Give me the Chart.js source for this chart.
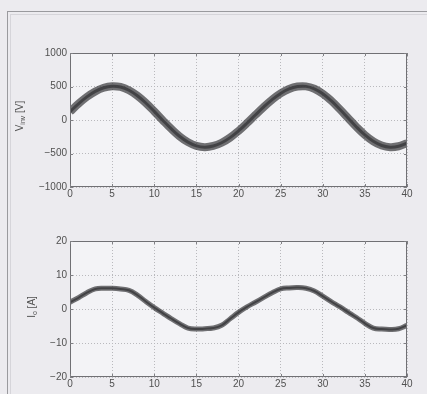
<!DOCTYPE html>
<html>
<head>
<meta charset="utf-8">
<script src="https://cdn.jsdelivr.net/npm/chart.js@4.4.1/dist/chart.umd.min.js"></script>
<style>
  html, body { margin: 0; padding: 0; }
  body { width: 427px; height: 394px; background: #ecebef; position: relative; overflow: hidden; }
  .frame { position: absolute; left: 7px; top: 11px; width: 440px; height: 400px; border-left: 1px solid #9a9a9e; border-top: 1px solid #9a9a9e; }
  .frame2 { position: absolute; left: 10px; top: 14px; width: 440px; height: 400px; border-left: 1px solid #d6d5da; border-top: 1px solid #d6d5da; }
  .box { position: absolute; left: 0; width: 427px; }
</style>
</head>
<body>
<div class="frame"></div>
<div class="frame2"></div>
<div class="box" style="top:0;height:200px"><canvas id="vinvChart" width="427" height="200"></canvas></div>
<div class="box" style="top:200px;height:194px"><canvas id="ioChart" width="427" height="194"></canvas></div>
<script>
const timeMs = [0, 1, 2, 3, 4, 5, 6, 7, 8, 9, 10, 11, 12, 13, 14, 15, 16, 17, 18, 19, 20,
                21, 22, 23, 24, 25, 26, 27, 28, 29, 30, 31, 32, 33, 34, 35, 36, 37, 38, 39, 40];
const vInv = [124, 241, 345, 427, 482, 504, 493, 444, 362, 254, 129, -3, -130, -243, -330, -386, -405,
              -388, -340, -263, -163, -48, 75, 195, 305, 397, 463, 499, 502, 466, 393, 289, 164, 30,
              -104, -223, -318, -381, -405, -392, -346];
const iOut = [2.0, 3.3, 4.8, 5.9, 6.1, 6.1, 5.9, 5.5, 4.1, 2.2, 0.4, -1.2, -2.8, -4.3, -5.6, -5.9, -5.8,
              -5.6, -4.8, -2.9, -1.0, 0.6, 2.0, 3.4, 4.8, 5.9, 6.2, 6.3, 6.1, 5.3, 3.8, 2.2, 0.7, -0.9,
              -2.5, -4.2, -5.6, -5.9, -6.0, -5.8, -4.8];
const xTicks = [0, 5, 10, 15, 20, 25, 30, 35, 40];
const vTicks = [-1000, -500, 0, 500, 1000];
const iTicks = [-20, -10, 0, 10, 20];

const tickColor = '#505050';
const gridColor = '#b9b9bd';

// plot box background + frame, matlab style
const plotBox = {
    id: 'plotBox',
    beforeDraw(chart) {
        const a = chart.chartArea, ctx = chart.ctx;
        ctx.save();
        ctx.fillStyle = '#f3f3f6';
        ctx.fillRect(a.left, a.top, a.right - a.left, a.bottom - a.top);
        ctx.restore();
    },
    afterDraw(chart) {
        const a = chart.chartArea, ctx = chart.ctx;
        ctx.save();
        ctx.strokeStyle = '#707074';
        ctx.lineWidth = 1;
        ctx.strokeRect(a.left + 0.5, a.top + 0.5, a.right - a.left - 1, a.bottom - a.top - 1);
        // small inward tick marks
        ctx.strokeStyle = '#808084';
        const xs = chart.scales.x, ys = chart.scales.y;
        xTicks.forEach(v => {
            const px = Math.round(xs.getPixelForValue(v)) + 0.5;
            ctx.beginPath();
            ctx.moveTo(px, a.bottom); ctx.lineTo(px, a.bottom - 3);
            ctx.moveTo(px, a.top); ctx.lineTo(px, a.top + 3);
            ctx.stroke();
        });
        ys.ticks.forEach(t => {
            const py = Math.round(ys.getPixelForValue(t.value)) + 0.5;
            ctx.beginPath();
            ctx.moveTo(a.left, py); ctx.lineTo(a.left + 3, py);
            ctx.moveTo(a.right, py); ctx.lineTo(a.right - 3, py);
            ctx.stroke();
        });
        ctx.restore();
    }
};

// rotated y label with a subscript
const axisLabel = {
    id: 'axisLabel',
    afterDraw(chart, args, opts) {
        if (!opts || !opts.main) return;
        const ctx = chart.ctx;
        ctx.save();
        ctx.translate(opts.x, opts.y);
        ctx.rotate(-Math.PI / 2);
        ctx.fillStyle = tickColor;
        ctx.textBaseline = 'middle';
        const big = '10px "Liberation Sans", Arial, sans-serif';
        const small = '7px "Liberation Sans", Arial, sans-serif';
        ctx.font = big;
        const w1 = ctx.measureText(opts.main).width;
        const w3 = ctx.measureText(' ' + opts.unit).width;
        ctx.font = small;
        const w2 = ctx.measureText(opts.sub).width;
        let x = -(w1 + w2 + w3) / 2;
        ctx.font = big;
        ctx.fillText(opts.main, x, 0);
        x += w1;
        ctx.font = small;
        ctx.fillText(opts.sub, x, 3);
        x += w2;
        ctx.font = big;
        ctx.fillText(' ' + opts.unit, x, 0);
        ctx.restore();
    }
};

function makeChart(id, values, yTicks, lineWidth, padTop, xHeight, label) {
    const points = timeMs.map((t, i) => ({ x: t, y: values[i] }));
    return new Chart(document.getElementById(id), {
        type: 'line',
        data: {
            datasets: [{
                // noisy band
                data: points,
                borderColor: 'rgba(60, 60, 62, 0.72)',
                borderWidth: lineWidth,
                pointRadius: 0,
                tension: 0.4,
                fill: false
            }, {
                // darker core of the trace
                data: points,
                borderColor: 'rgba(45, 45, 47, 0.8)',
                borderWidth: Math.max(2, lineWidth - 5),
                pointRadius: 0,
                tension: 0.4,
                fill: false
            }]
        },
        options: {
            responsive: false,
            animation: false,
            layout: { padding: { top: padTop, right: 20, left: 0, bottom: 0 } },
            plugins: {
                legend: { display: false },
                tooltip: { enabled: false },
                axisLabel: label
            },
            scales: {
                x: {
                    type: 'linear',
                    min: 0,
                    max: 40,
                    afterBuildTicks: (s) => { s.ticks = xTicks.map(v => ({ value: v })); },
                    afterFit: (s) => { s.height = xHeight; },
                    grid: { color: gridColor, drawTicks: false },
                    border: { display: false, dash: [1, 2] },
                    ticks: { color: tickColor, padding: 1, font: { family: '"Liberation Sans", Arial, sans-serif', size: 10 } }
                },
                y: {
                    min: yTicks[0],
                    max: yTicks[yTicks.length - 1],
                    afterBuildTicks: (s) => { s.ticks = yTicks.map(v => ({ value: v })); },
                    afterFit: (s) => { s.width = 70; },
                    grid: { color: gridColor, drawTicks: false },
                    border: { display: false, dash: [1, 2] },
                    ticks: { color: tickColor, padding: 3, font: { family: '"Liberation Sans", Arial, sans-serif', size: 10 },
                             callback: (v) => v < 0 ? '\u2212' + Math.abs(v) : String(v) }
                }
            }
        },
        plugins: [plotBox, axisLabel]
    });
}

makeChart('vinvChart', vInv, vTicks, 8, 53, 13, { main: 'V', sub: 'inv', unit: '[V]', x: 20, y: 116 });
makeChart('ioChart', iOut, iTicks, 5, 41, 17, { main: 'I', sub: 'o', unit: '[A]', x: 32, y: 107 });
</script>
</body>
</html>
